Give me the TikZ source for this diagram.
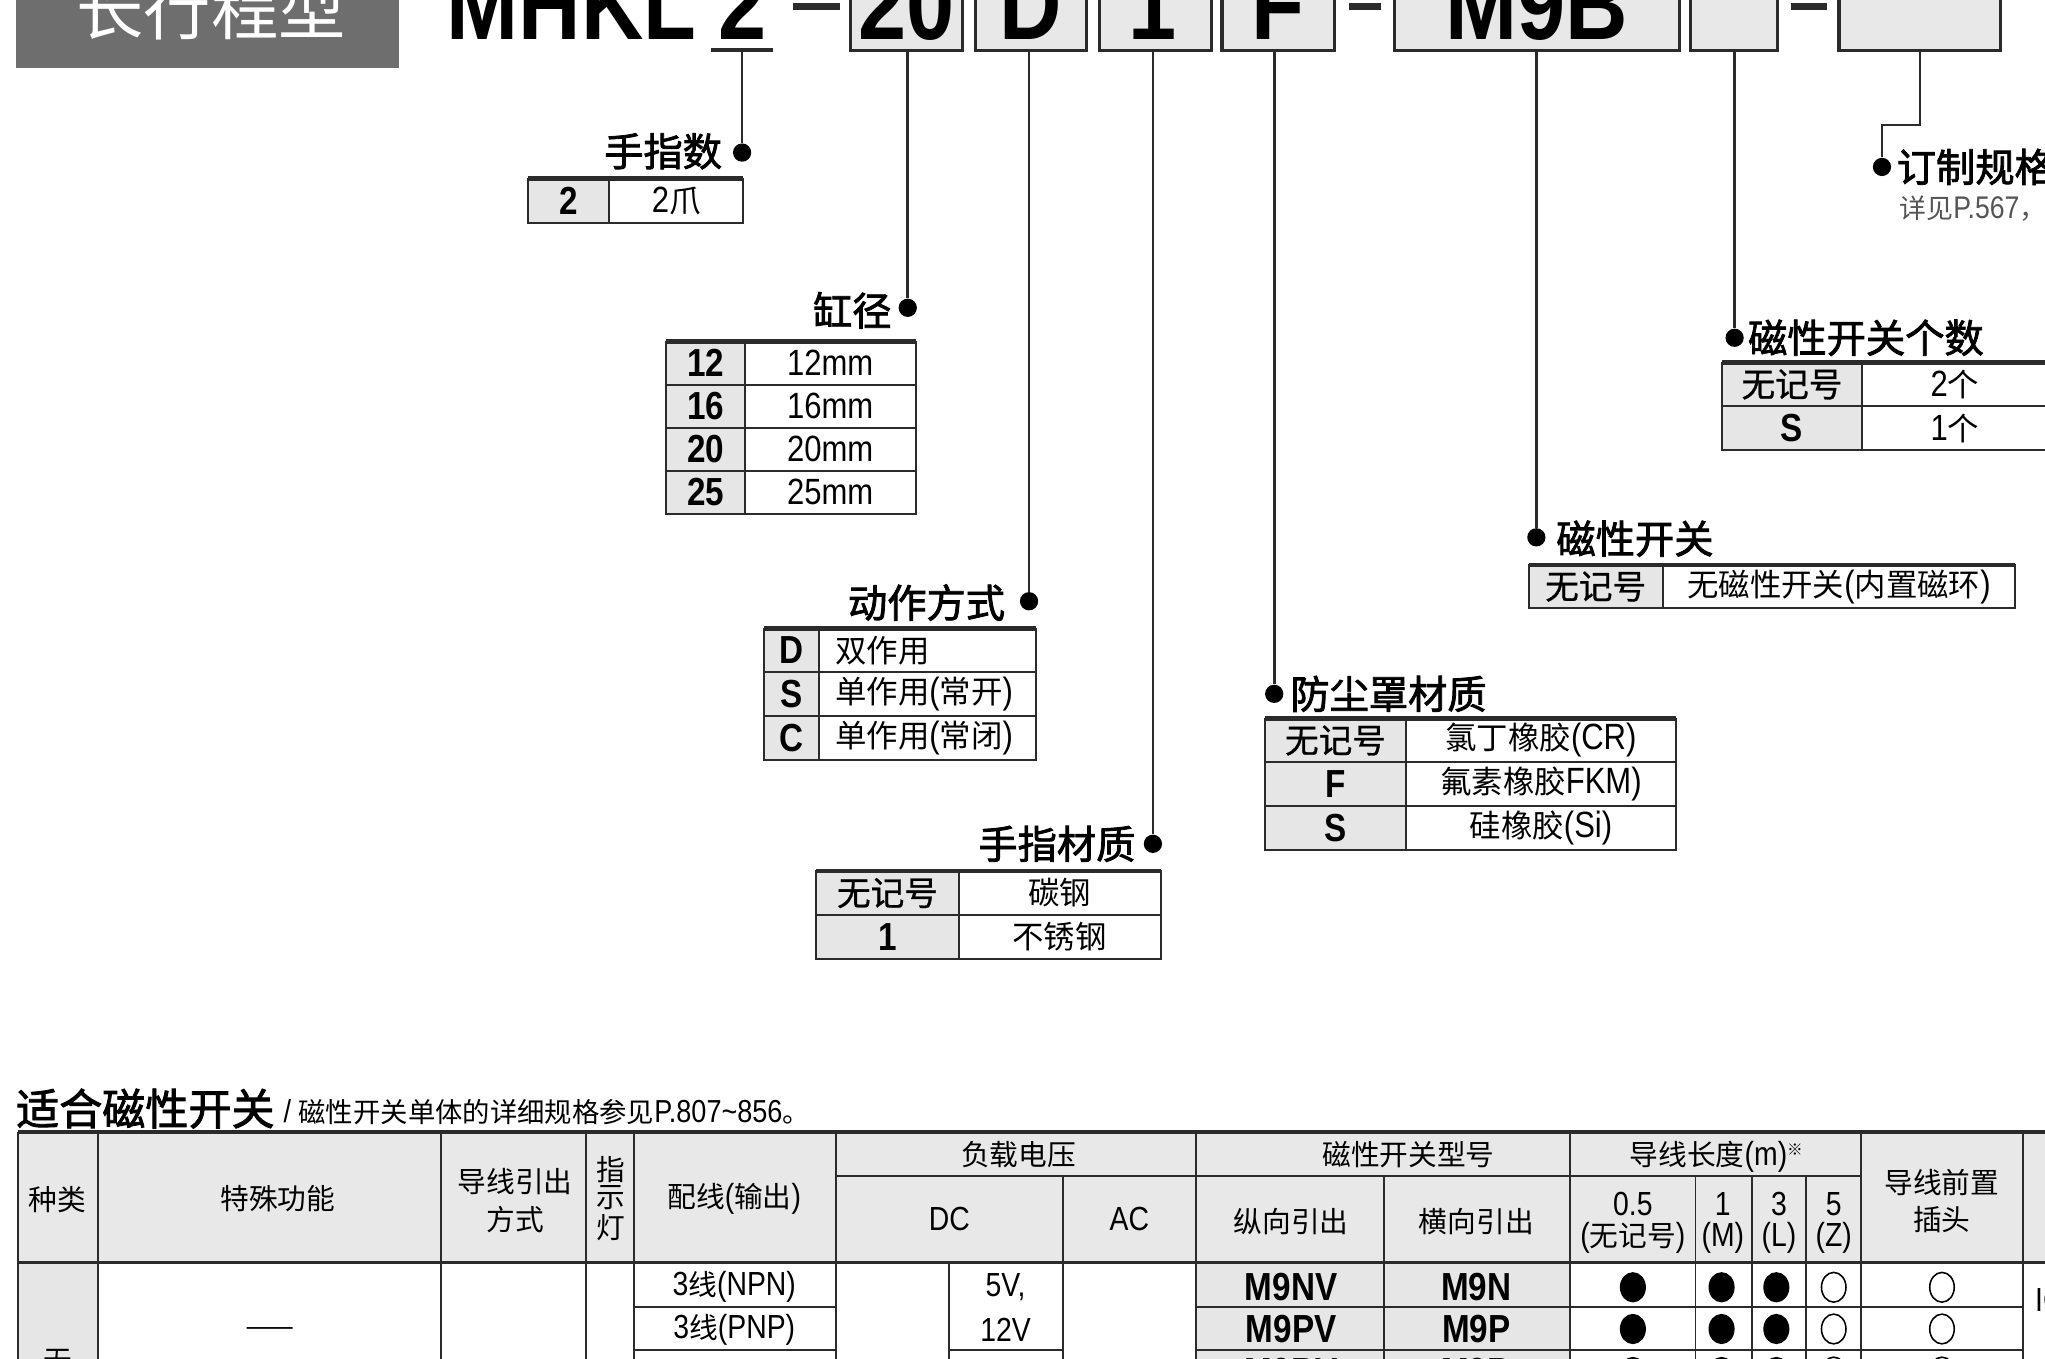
\documentclass[tikz,border=0pt]{standalone}
\usepackage{fontspec}
\setmainfont{Liberation Sans}[FakeStretch=0.85]
\newfontfamily\cjkf{Noto Sans CJK SC}[Scale=0.86]
\newfontfamily\cjkmf{Noto Sans CJK SC}[Scale=0.86,FakeBold=0.8]
\newfontfamily\cjkbf{Noto Sans CJK SC}[Scale=0.86,FakeBold=2]
\newcommand\zh[1]{{\cjkf\mdseries #1}}
\newcommand\zhm[1]{{\cjkmf\mdseries #1}}
\newcommand\fsz[1]{\fontsize{#1}{#1}\selectfont}
\definecolor{keygray}{HTML}{E6E6E6}
\definecolor{hdrgray}{HTML}{E8E8E8}
\definecolor{boxgray}{HTML}{E8E8E8}
\definecolor{titlegray}{HTML}{6E6E6E}
\definecolor{linec}{HTML}{2B2B2B}
\definecolor{subgray}{HTML}{555555}
% name, x0, xsplit, x1, ytop, rowh, valx, valanchor, list key/val
\newcommand\ktab[9]{%
  \foreach \kk/\vv [count=\ii] in {#9}{%
    \pgfmathsetmacro\ya{#5+(\ii-1)*#6}%
    \pgfmathsetmacro\yb{#5+\ii*#6}%
    \pgfmathsetmacro\ym{#5+(\ii-0.5)*#6}%
    \fill[keygray] (#2,\ya) rectangle (#3,\yb);
    \draw[grid] (#2,\ya) rectangle (#4,\yb);
    \draw[grid] (#3,\ya) -- (#3,\yb);
    \node[keyt] (#1k\ii) at ({(#2+#3)/2},\ym) {\kk};
    \node[valt,anchor=#8] (#1v\ii) at (#7,\ym) {\vv};
  }%
  \draw[topline] (#2,#5) -- (#4,#5);
}
\begin{document}
\begin{tikzpicture}[x=0.5pt,y=-0.5pt,
  grid/.style={draw=linec,line width=0.75pt},
  topline/.style={draw=linec,line width=1.7pt},
  lead/.style={draw=linec,line width=1pt},
  dotn/.style={circle,fill=black,inner sep=0pt,minimum size=7pt},
  codebox/.style={draw=linec,line width=1.2pt,fill=boxgray,inner sep=0pt,minimum height=40pt},
  code/.style={anchor=base,inner sep=0pt,font=\fsz{39pt}\bfseries},
  lbl/.style={inner sep=0pt,font=\fsz{17.5pt}\cjkbf},
  keyt/.style={inner sep=0pt,font=\fsz{15pt}\bfseries},
  valt/.style={inner sep=0pt,font=\fsz{14pt}},
  hdr/.style={inner sep=0pt,font=\fsz{12.8pt}},
  mdl/.style={inner sep=0pt,font=\fsz{15pt}\bfseries},
]
\useasboundingbox (0,0) rectangle (1568,1042);
\clip (0,0) rectangle (1568,1042);

% ---- title block ----
\node[fill=titlegray,minimum width=147pt,minimum height=41pt,inner sep=0pt] (tbox) at (159,11) {};
\node[text=white,inner sep=0pt,font=\fsz{30pt}\cjkf] (ttext) at (162,7) {长行程型};

% ---- model code ----
\node[codebox,minimum width=43pt] (b20) at (695,-1) {};
\node[codebox,minimum width=42.5pt] (bD) at (790.5,-1) {};
\node[codebox,minimum width=43pt] (b1) at (886,-1) {};
\node[codebox,minimum width=43pt] (bF) at (980,-1) {};
\node[codebox,minimum width=109.5pt] (bM) at (1178.5,-1) {};
\node[codebox,minimum width=33.5pt] (bE1) at (1329.5,-1) {};
\node[codebox,minimum width=62pt] (bE2) at (1472,-1) {};

\node[code,anchor=base west] (tMHKL) at (342,30) {MHKL};
\node[code] (t2) at (569,30) {2};
\node[code] (t20) at (695,30) {20};
\node[code] (tD) at (790,30) {D};
\node[code] (t1) at (884,30) {1};
\node[code] (tF) at (980,30) {F};
\node[code] (tM) at (1178,30) {M9B};

\fill[linec] (608,2) rectangle (644,7.5);
\fill[linec] (1034,2) rectangle (1059,7.5);
\fill[linec] (1373,2) rectangle (1401,7.5);
\draw[linec,line width=1.5pt] (545,38) -- (593,38);
\coordinate (u2) at (569,38);

% ---- dots and labels ----
\node[dotn] (d2) at (569,117) {};
\node[dotn] (d20) at (696,236) {};
\node[dotn] (dD) at (789,461) {};
\node[dotn] (d1) at (884,647) {};
\node[dotn] (dF) at (977,532) {};
\node[dotn] (dM) at (1178,412) {};
\node[dotn] (dE1) at (1330,259) {};
\node[dotn] (dE2) at (1443,128) {};
\coordinate (bend) at (1443,96);

\draw[lead] (d2) -- (u2);
\draw[lead] (d20) -- (d20 |- b20.south);
\draw[lead] (dD) -- (dD |- bD.south);
\draw[lead] (d1) -- (d1 |- b1.south);
\draw[lead] (dF) -- (dF |- bF.south);
\draw[lead] (dM) -- (dM |- bM.south);
\draw[lead] (dE1) -- (dE1 |- bE1.south);
\draw[lead] (dE2) -- (bend) -| (bE2.south);

\node[lbl,anchor=east] (l2) at (554,116) {手指数};
\node[lbl,anchor=east] (l20) at (684,238) {缸径};
\node[lbl,anchor=east] (lD) at (771,462) {动作方式};
\node[lbl,anchor=east] (l1) at (871,647) {手指材质};
\node[lbl,anchor=west] (lF) at (989,532) {防尘罩材质};
\node[lbl,anchor=west] (lM) at (1193,413) {磁性开关};
\node[lbl,anchor=west] (lE1) at (1340,259) {磁性开关个数};
\node[lbl,anchor=west] (lE2) at (1454,128) {订制规格};
\node[inner sep=0pt,anchor=west,font=\fsz{12pt},text=subgray] (lE2s) at (1456,160) {\zh{详见}P.567\zh{，}};

% ---- option tables ----
\ktab{A}{405}{467}{570}{137}{34}{518.5}{center}{2/2\zh{爪}}
\ktab{B}{511}{571}{702}{262}{33}{636.5}{center}{12/12mm,16/16mm,20/20mm,25/25mm}
\ktab{C}{586}{628}{794}{482}{33.5}{640}{west}{D/\zh{双作用},S/\zh{单作用}(\zh{常开}),C/\zh{单作用}(\zh{常闭})}
\ktab{E}{626}{735}{890}{668}{33.5}{812.5}{center}{\zhm{无记号}/\zh{碳钢},1/\zh{不锈钢}}
\ktab{F}{970}{1078}{1285}{551}{33.5}{1181.5}{center}{\zhm{无记号}/\zh{氯丁橡胶}(CR),F/\zh{氟素橡胶}FKM),S/\zh{硅橡胶}(Si)}
\ktab{G}{1172}{1275}{1545}{433}{33.5}{1410}{center}{\zhm{无记号}/\zh{无磁性开关}(\zh{内置磁环})}
\ktab{H}{1320}{1428}{1570}{278}{33.5}{1499}{center}{\zhm{无记号}/2\zh{个},S/1\zh{个}}

% ---- switch section ----
\node[inner sep=0pt,anchor=west,font=\fsz{19.2pt}\cjkbf] (sec) at (12,850) {适合磁性开关};
\node[inner sep=0pt,anchor=west,font=\fsz{12.2pt}] (secsub) at (217,853) {/ \zh{磁性开关单体的详细规格参见}P.807\textasciitilde856\zh{。}};

\fill[hdrgray] (14,868) rectangle (1570,968);
\fill[keygray] (14,968) rectangle (75,1045);
\fill[keygray] (917,968) rectangle (1204,1045);
\foreach \x in {14,75,338,449,486,641,917,1204,1427,1551} \draw[grid] (\x,868) -- (\x,1045);
\foreach \x in {815,1061,1300,1343,1385} \draw[grid] (\x,902) -- (\x,1045);
\draw[grid] (728,968) -- (728,1045);
\draw[grid] (641,902) -- (1427,902);
\draw[grid] (486,1002) -- (641,1002) (917,1002) -- (1551,1002);
\draw[grid] (486,1035) -- (641,1035) (728,1035) -- (815,1035) (917,1035) -- (1551,1035);
\draw[linec,line width=1.3pt] (14,968) -- (1570,968);
\draw[topline] (14,868) -- (1570,868);

\node[hdr] (h1) at (44,920) {\zh{种类}};
\node[hdr] (h2) at (213,919) {\zh{特殊功能}};
\node[hdr] (h3a) at (395,906) {\zh{导线引出}};
\node[hdr] (h3b) at (395,935) {\zh{方式}};
\node[hdr] (h4a) at (468,897) {\zh{指}};
\node[hdr] (h4b) at (468,918) {\zh{示}};
\node[hdr] (h4c) at (468,941) {\zh{灯}};
\node[hdr] (h5) at (563,919) {\zh{配线}(\zh{输出})};
\node[hdr] (h6) at (781,885) {\zh{负载电压}};
\node[hdr] (h6a) at (728,935) {DC};
\node[hdr] (h6b) at (866,935) {AC};
\node[hdr] (h7) at (1080,885) {\zh{磁性开关型号}};
\node[hdr] (h7a) at (990,937) {\zh{纵向引出}};
\node[hdr] (h7b) at (1132,937) {\zh{横向引出}};
\node[hdr] (h8) at (1316,887) {\zh{导线长度}(m)\raisebox{4pt}{\fsz{7pt}\zh{※}}};
\node[hdr] (h8a1) at (1252,923) {0.5};
\node[hdr] (h8a2) at (1252,949) {(\zh{无记号})};
\node[hdr] (h8b1) at (1321,923) {1};
\node[hdr] (h8b2) at (1321,949) {(M)};
\node[hdr] (h8c1) at (1364,923) {3};
\node[hdr] (h8c2) at (1364,949) {(L)};
\node[hdr] (h8d1) at (1406,923) {5};
\node[hdr] (h8d2) at (1406,949) {(Z)};
\node[hdr] (h9a) at (1489,907) {\zh{导线前置}};
\node[hdr] (h9b) at (1489,935) {\zh{插头}};

% body
\node[hdr] (r0) at (44,1044) {\zh{无}};
\node[hdr] (rdash) at (207,1021) {\scalebox{2}[1]{\zh{—}}};
\node[hdr] (r1a) at (563,987) {3\zh{线}(NPN)};
\node[hdr] (r2a) at (563,1020) {3\zh{线}(PNP)};
\node[hdr] (r1v) at (771,987) {5V,};
\node[hdr] (r2v) at (771,1020) {12V};
\node[mdl] (r1m) at (990,987) {M9NV};
\node[mdl] (r1n) at (1132,987) {M9N};
\node[mdl] (r2m) at (990,1019) {M9PV};
\node[mdl] (r2n) at (1132,1019) {M9P};
\node[mdl] (r3m) at (990,1052) {M9BV};
\node[mdl] (r3n) at (1132,1052) {M9B};
\node[hdr,anchor=west] (rIC) at (1560,997) {IC\zh{回路}};
\foreach \yy in {987,1019,1052}{
  \foreach \xx in {1252,1320,1362}{
    \fill[black] (\xx,\yy) ellipse [x radius=5pt,y radius=5.8pt];
  }
  \foreach \xx in {1406,1489}{
    \draw[black,line width=0.6pt] (\xx,\yy) ellipse [x radius=4.7pt,y radius=5.7pt];
  }
}
\end{tikzpicture}
\end{document}
